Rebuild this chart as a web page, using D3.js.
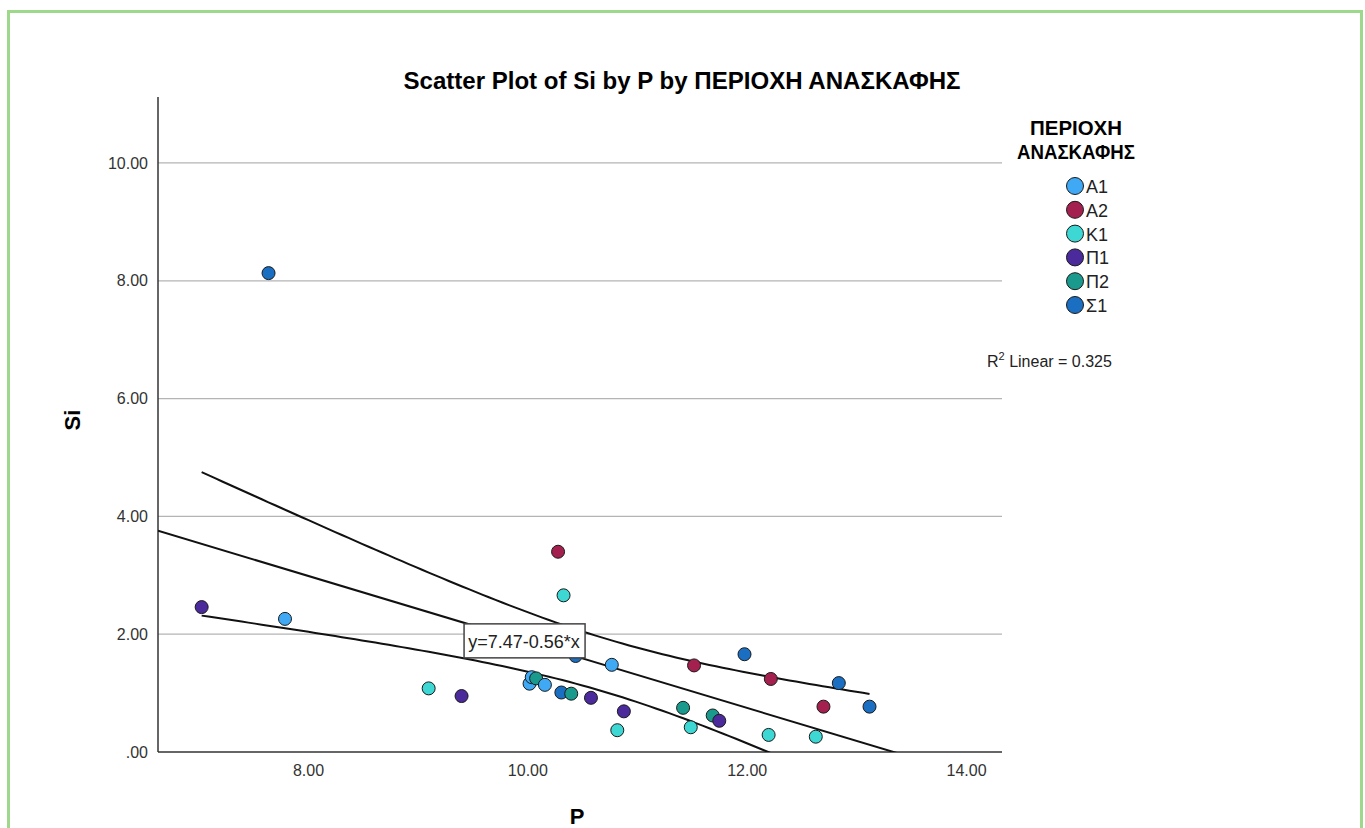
<!DOCTYPE html>
<html>
<head>
<meta charset="utf-8">
<title>Scatter Plot of Si by P</title>
<script src="https://d3js.org/d3.v7.min.js"></script>
<style>
  body { margin: 0; background: #fff; }
  svg { font-family: "Liberation Sans", Arial, sans-serif; }
</style>
</head>
<body>
<svg id="chart" width="1365" height="828"></svg>
<script>
// groups (legend order) and colours
const groups = ["A1", "A2", "K1", "Π1", "Π2", "Σ1"];
const groupColors = ["#3fa9f5", "#a3204f", "#3dd8d4", "#4b2a9c", "#1a9a8d", "#1b6fc2"];

// points: P, Si, group
const pValues = [7.03, 7.79, 7.64, 10.28, 10.33, 9.10, 9.40, 10.02, 10.04, 10.08,
                 10.16, 10.31, 10.40, 10.58, 10.44, 11.98, 10.77, 11.52, 12.22, 12.84,
                 10.88, 10.82, 11.42, 11.69, 11.75, 11.49, 12.20, 12.63, 12.70, 13.12];
const siValues = [2.46, 2.26, 8.13, 3.40, 2.66, 1.08, 0.95, 1.16, 1.27, 1.25,
                  1.14, 1.01, 0.99, 0.92, 1.63, 1.66, 1.48, 1.47, 1.24, 1.17,
                  0.69, 0.37, 0.75, 0.62, 0.53, 0.42, 0.29, 0.26, 0.77, 0.77];
const groupOf = ["Π1", "A1", "Σ1", "A2", "K1", "K1", "Π1", "A1", "A1", "Π2",
                 "A1", "Σ1", "Π2", "Π1", "Σ1", "Σ1", "A1", "A2", "A2", "Σ1",
                 "Π1", "K1", "Π2", "Π2", "Π1", "K1", "K1", "K1", "A2", "Σ1"];

const xTicks = [8, 10, 12, 14];
const yTicks = [0, 2, 4, 6, 8, 10];

// total fit line as printed on the chart
const fitIntercept = 7.47;
const fitSlope = -0.56;
const rSquared = 0.325;

const svg = d3.select("#chart");
const plotLeft = 158, plotRight = 1002, plotTop = 97, plotBottom = 752;

const x = d3.scaleLinear().domain([6.632, 14.328]).range([plotLeft, plotRight]);
const y = d3.scaleLinear().domain([0, 11.12]).range([plotBottom, plotTop]);
const color = d3.scaleOrdinal().domain(groups).range(groupColors);

// green frame
svg.append("path")
  .attr("d", "M8.5,840 V11.5 H1361.5 V840")
  .attr("fill", "none").attr("stroke", "#9ed88b").attr("stroke-width", 3);

// title
svg.append("text")
  .attr("x", 682).attr("y", 89)
  .attr("text-anchor", "middle")
  .attr("font-size", 24).attr("font-weight", "bold")
  .attr("textLength", 557).attr("lengthAdjust", "spacingAndGlyphs")
  .text("Scatter Plot of Si by P by ΠΕΡΙΟΧΗ ΑΝΑΣΚΑΦΗΣ");

// grid
svg.append("g").selectAll("line")
  .data(yTicks.filter(d => d > 0))
  .join("line")
  .attr("x1", plotLeft).attr("x2", plotRight)
  .attr("y1", d => y(d)).attr("y2", d => y(d))
  .attr("stroke", "#b4b4b4").attr("stroke-width", 1.2);

// axes
const yAxis = svg.append("g").attr("transform", `translate(${plotLeft},0)`)
  .call(d3.axisLeft(y).tickValues(yTicks).tickSize(0).tickPadding(10)
    .tickFormat(d => d === 0 ? ".00" : d3.format(".2f")(d)));
yAxis.select(".domain").remove();
yAxis.selectAll("text").attr("font-size", 16).attr("fill", "#333")
  .attr("font-family", "Liberation Sans, Arial, sans-serif");

const xAxis = svg.append("g").attr("transform", `translate(0,${plotBottom})`)
  .call(d3.axisBottom(x).tickValues(xTicks).tickSize(0).tickPadding(13)
    .tickFormat(d3.format(".2f")));
xAxis.select(".domain").remove();
xAxis.selectAll("text").attr("font-size", 16).attr("fill", "#333")
  .attr("font-family", "Liberation Sans, Arial, sans-serif");

svg.append("line").attr("x1", plotLeft).attr("x2", plotLeft).attr("y1", plotTop).attr("y2", plotBottom)
  .attr("stroke", "#333").attr("stroke-width", 1.5);
svg.append("line").attr("x1", plotLeft).attr("x2", plotRight).attr("y1", plotBottom).attr("y2", plotBottom)
  .attr("stroke", "#333").attr("stroke-width", 1.5);

// axis titles
svg.append("text")
  .attr("transform", "translate(80,420) rotate(-90)")
  .attr("text-anchor", "middle").attr("font-size", 22).attr("font-weight", "bold")
  .text("Si");
svg.append("text")
  .attr("x", 577).attr("y", 824)
  .attr("text-anchor", "middle").attr("font-size", 22).attr("font-weight", "bold")
  .text("P");

// clip to plot area
svg.append("clipPath").attr("id", "plotClip")
  .append("rect").attr("x", plotLeft).attr("y", plotTop)
  .attr("width", plotRight - plotLeft).attr("height", plotBottom - plotTop);

// regression line and mean confidence band
const n = pValues.length;
const xbar = d3.mean(pValues);
const sxx = d3.sum(pValues, v => (v - xbar) ** 2);
const sse = d3.sum(pValues, (v, i) => (siValues[i] - (fitIntercept + fitSlope * v)) ** 2);
const s = Math.sqrt(sse / (n - 2));
const tCrit = 2.048;
const fit = v => fitIntercept + fitSlope * v;
const half = v => tCrit * s * Math.sqrt(1 / n + (v - xbar) ** 2 / sxx);

const lines = svg.append("g").attr("clip-path", "url(#plotClip)");
const lineGen = d3.line().x(d => x(d[0])).y(d => y(d[1]));

lines.append("path")
  .attr("d", lineGen(x.domain().map(v => [v, fit(v)])))
  .attr("fill", "none").attr("stroke", "#111").attr("stroke-width", 2);

const [pMin, pMax] = d3.extent(pValues);
const bandX = d3.range(0, 101).map(i => pMin + (pMax - pMin) * i / 100);
lines.append("path")
  .attr("d", lineGen(bandX.map(v => [v, fit(v) + half(v)])))
  .attr("fill", "none").attr("stroke", "#111").attr("stroke-width", 2);
lines.append("path")
  .attr("d", lineGen(bandX.map(v => [v, fit(v) - half(v)])))
  .attr("fill", "none").attr("stroke", "#111").attr("stroke-width", 2);

// points
svg.append("g").selectAll("circle")
  .data(pValues.map((p, i) => ({ p, si: siValues[i], g: groupOf[i] })))
  .join("circle")
  .attr("cx", d => x(d.p)).attr("cy", d => y(d.si)).attr("r", 6.5)
  .attr("fill", d => color(d.g)).attr("stroke", "#1a1a1a").attr("stroke-width", 1);

// equation label on the fit line
const labelP = 9.97;
const lab = svg.append("g").attr("transform", `translate(${x(labelP)},${y(fit(labelP))})`);
lab.append("rect").attr("x", -60).attr("y", -17).attr("width", 121).attr("height", 34)
  .attr("fill", "#fff").attr("stroke", "#444").attr("stroke-width", 1.5);
lab.append("text").attr("text-anchor", "middle").attr("y", 7)
  .attr("font-size", 18).attr("fill", "#222")
  .text(`y=${fitIntercept.toFixed(2)}${fitSlope < 0 ? "-" : "+"}${Math.abs(fitSlope).toFixed(2)}*x`);

// legend
const legend = svg.append("g");
legend.append("text").attr("x", 1076).attr("y", 135).attr("text-anchor", "middle")
  .attr("font-size", 21).attr("font-weight", "bold")
  .attr("textLength", 92).attr("lengthAdjust", "spacingAndGlyphs").text("ΠΕΡΙΟΧΗ");
legend.append("text").attr("x", 1076).attr("y", 159).attr("text-anchor", "middle")
  .attr("font-size", 21).attr("font-weight", "bold")
  .attr("textLength", 118).attr("lengthAdjust", "spacingAndGlyphs").text("ΑΝΑΣΚΑΦΗΣ");

const items = legend.selectAll("g.item").data(groups).join("g")
  .attr("class", "item")
  .attr("transform", (d, i) => `translate(1075,${186 + i * 23.8})`);
items.append("circle").attr("r", 8.5)
  .attr("fill", d => color(d)).attr("stroke", "#1a1a1a").attr("stroke-width", 1);
items.append("text").attr("x", 11).attr("y", 7)
  .attr("font-size", 18).attr("fill", "#222").text(d => d);

const r2 = legend.append("text").attr("x", 987).attr("y", 367)
  .attr("font-size", 16).attr("fill", "#222");
r2.append("tspan").text("R");
r2.append("tspan").attr("dy", -7).attr("font-size", 11).text("2");
r2.append("tspan").attr("dy", 7).text(` Linear = ${rSquared.toFixed(3)}`);
</script>
</body>
</html>
